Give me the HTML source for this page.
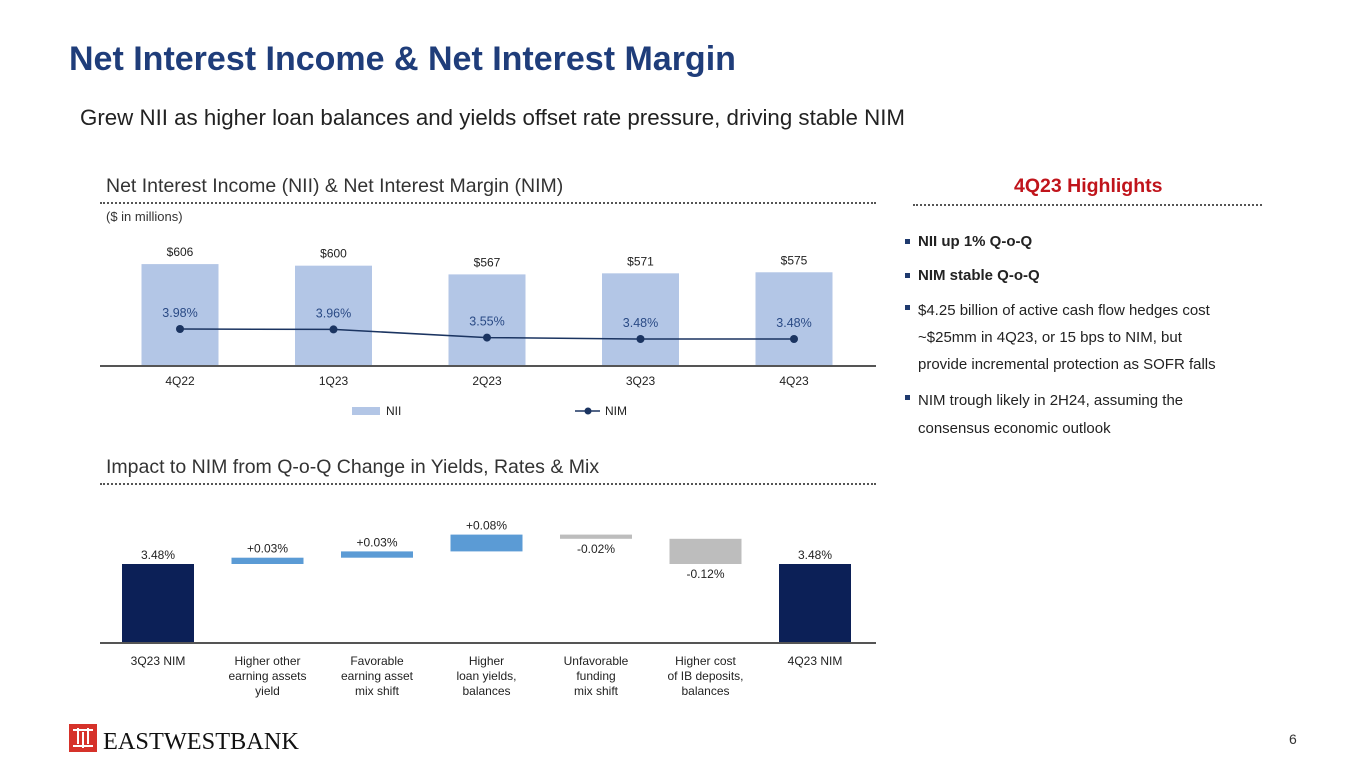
<!DOCTYPE html>
<html><head><meta charset="utf-8">
<style>
body{margin:0;width:1365px;height:768px;background:#fff;position:relative;overflow:hidden;font-family:"Liberation Sans",Arial,sans-serif;}
.t{position:absolute;white-space:nowrap;}
.dot{position:absolute;height:0;border-top:2px dotted #555;}
.hl{position:absolute;left:918px;font-size:15px;color:#222;line-height:22px;white-space:nowrap;}
.hl:before{content:"";position:absolute;left:-13px;top:8px;width:5px;height:5px;background:#1f3a6e;}
svg text{font-family:"Liberation Sans",Arial,sans-serif;}
</style></head>
<body>
<div class="t" style="left:69px;top:40px;font-size:34px;font-weight:bold;color:#1f3d7a;">Net Interest Income &amp; Net Interest Margin</div>
<div class="t" style="left:80px;top:105px;font-size:22.3px;color:#222;">Grew NII as higher loan balances and yields offset rate pressure, driving stable NIM</div>
<div class="t" style="left:106px;top:175px;font-size:19.5px;color:#333;">Net Interest Income (NII) &amp; Net Interest Margin (NIM)</div>
<div class="dot" style="left:100px;top:202px;width:776px;"></div>
<div class="t" style="left:106px;top:209px;font-size:13px;color:#333;">($ in millions)</div>
<div class="t" style="left:1014px;top:175px;font-size:19.5px;font-weight:bold;color:#c0141b;">4Q23 Highlights</div>
<div class="dot" style="left:913px;top:204px;width:349px;"></div>
<div class="hl" style="top:231px;font-weight:bold;">NII up 1% Q-o-Q</div>
<div class="hl" style="top:265px;font-weight:bold;">NIM stable Q-o-Q</div>
<div class="hl" style="top:297px;line-height:27px;">$4.25 billion of active cash flow hedges cost<br>~$25mm in 4Q23, or 15 bps to NIM, but<br>provide incremental protection as SOFR falls</div>
<div class="hl" style="top:387px;line-height:28px;">NIM trough likely in 2H24, assuming the<br>consensus economic outlook</div>
<div class="t" style="left:106px;top:456px;font-size:19.5px;color:#333;">Impact to NIM from Q-o-Q Change in Yields, Rates &amp; Mix</div>
<div class="dot" style="left:100px;top:483px;width:776px;"></div>
<div class="t" style="left:1289px;top:731px;font-size:14px;color:#333;">6</div>
<div style="position:absolute;left:69px;top:724px;">
<svg width="232" height="30"><rect x="0" y="0" width="28" height="28" fill="#d6322a"/>
<g stroke="#fff" stroke-width="2"><line x1="4" y1="6" x2="24" y2="6"/><line x1="4" y1="22" x2="24" y2="22"/><line x1="9" y1="4" x2="9" y2="20"/><line x1="14" y1="8" x2="14" y2="24"/><line x1="19" y1="4" x2="19" y2="20"/></g>
<text x="34" y="25" font-size="24" fill="#111" style="font-family:'Liberation Serif',serif" textLength="196" lengthAdjust="spacingAndGlyphs">EASTWESTBANK</text></svg></div>

<svg id="c" width="1365" height="768" style="position:absolute;left:0;top:0;"></svg>
<script>
const quarters=["4Q22","1Q23","2Q23","3Q23","4Q23"];
const nii=[606,600,567,571,575];
const nim=[3.98,3.96,3.55,3.48,3.48];
const wfCats=[["3Q23 NIM"],["Higher other","earning assets","yield"],["Favorable","earning asset","mix shift"],["Higher","loan yields,","balances"],["Unfavorable","funding","mix shift"],["Higher cost","of IB deposits,","balances"],["4Q23 NIM"]];
const wfStart=3.48;
const wfDeltas=[0.03,0.03,0.08,-0.02,-0.12];
const wfEnd=3.48;
const NS="http://www.w3.org/2000/svg";
const svg=document.getElementById('c');
function mk(tag,a,parent){const e=document.createElementNS(NS,tag);for(const k in a)e.setAttribute(k,a[k]);(parent||svg).appendChild(e);return e;}
function tx(x,y,s,size,fill,anchor){const e=mk('text',{x:x,y:y,'font-size':size,fill:fill||'#222','text-anchor':anchor||'middle'});e.textContent=s;return e;}
const bx=i=>180+i*153.5, bw=77, base1=366;
const yNII=v=>base1-(v-220)*0.264;
const yNIM=v=>339-(v-3.48)*20;
nii.forEach((v,i)=>{
 const r=mk('rect',{x:bx(i)-bw/2,y:yNII(v),width:bw,height:base1-yNII(v),fill:'#b3c6e6'});
 
 
 const l=tx(bx(i),yNII(v)-8,'$'+v,12,'#222');
 
 
 const q=tx(bx(i),385,quarters[i],12,'#222');
 
 
});
mk('line',{x1:100,y1:base1,x2:876,y2:base1,stroke:'#555','stroke-width':2});
const pl=mk('polyline',{points:nim.map((v,i)=>bx(i)+','+yNIM(v)).join(' '),fill:'none',stroke:'#1b3461','stroke-width':1.5});


nim.forEach((v,i)=>{
 const c=mk('circle',{cx:bx(i),cy:yNIM(v),r:4,fill:'#1b3461'});
 
 
 const l=tx(bx(i),yNIM(v)-12,v.toFixed(2)+'%',12.5,'#2a4a85');
 
 
});
const lg1=mk('rect',{x:352,y:407,width:28,height:8,fill:'#b3c6e6'});


tx(386,415,'NII',12,'#222','start');
mk('line',{x1:575,y1:411,x2:600,y2:411,stroke:'#1b3461','stroke-width':1.5});
mk('circle',{cx:588,cy:411,r:3.5,fill:'#1b3461'});
tx(605,415,'NIM',12,'#222','start');
const wx=i=>158+i*109.5, ww=72, base2=643;
const yW=v=>564-(v-3.48)*210;
function bar(x,y1,y2,fill,name){const r=mk('rect',{x:x-ww/2,y:Math.min(y1,y2),width:ww,height:Math.max(3,Math.abs(y2-y1)),fill:fill});return r;}
bar(wx(0),yW(wfStart),base2,'#0c2057','wf-bar-start');
tx(wx(0),yW(wfStart)-5,wfStart.toFixed(2)+'%',12,'#222');
let cum=wfStart;
wfDeltas.forEach((d,i)=>{
 const a=yW(cum),b=yW(cum+d);
 bar(wx(i+1),a,b,d>=0?'#5b9bd5':'#bdbdbd','wf-bar-delta-'+(i+1));
 const s=(d>=0?'+':'')+d.toFixed(2)+'%';
 const lab=d>=0?tx(wx(i+1),Math.min(a,b)-5,s,12,'#222'):tx(wx(i+1),Math.max(a,b)+14,s,12,'#222');
 
 
 cum+=d;
});
bar(wx(6),yW(wfEnd),base2,'#0c2057','wf-bar-end');
tx(wx(6),yW(wfEnd)-5,wfEnd.toFixed(2)+'%',12,'#222');
mk('line',{x1:100,y1:base2,x2:876,y2:base2,stroke:'#555','stroke-width':2});
wfCats.forEach((lines,i)=>lines.forEach((s,j)=>{
 const t=tx(wx(i),665+j*15,s,12,'#222');
 
 
}));
</script>
</body></html>
